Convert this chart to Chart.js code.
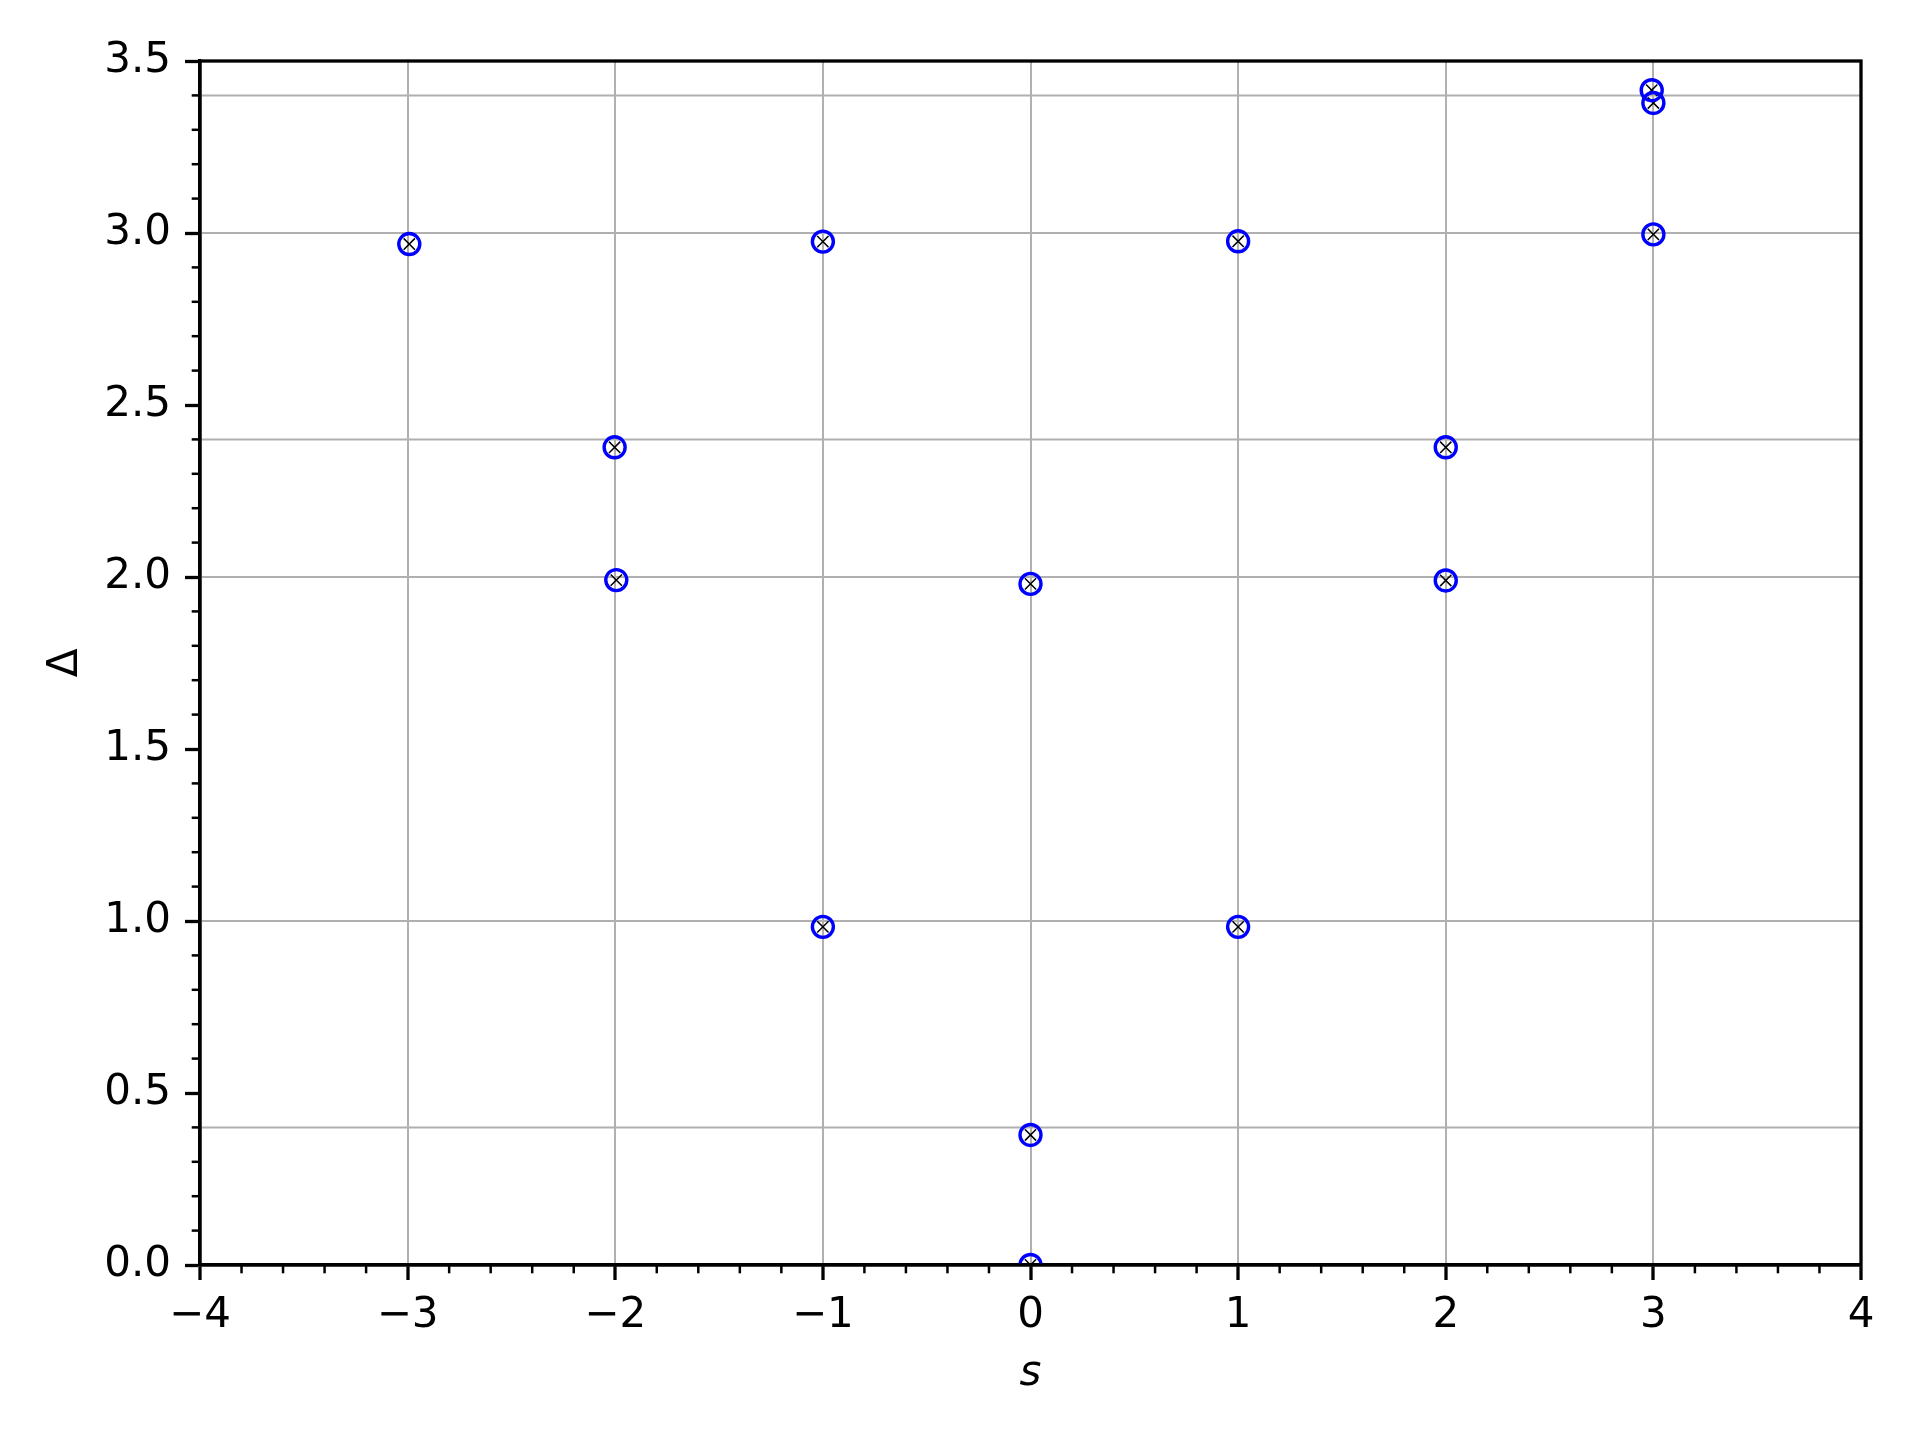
<!DOCTYPE html>
<html>
<head>
<meta charset="utf-8">
<script src="https://cdn.jsdelivr.net/npm/chart.js@4.4.1/dist/chart.umd.min.js"></script>
<style>
  body { margin: 0; background: #fff; }
  canvas { display: block; }
</style>
</head>
<body>
<canvas id="spectrum" width="1920" height="1440"></canvas>
<script>
// data
const sVals     = [-2.992, -2.003, -1.995, -1, -1, 0, 0, 0, 1, 1, 2, 2, 2.992, 3, 3];
const deltaVals = [2.968, 2.377, 1.991, 2.975, 0.983, 1.980, 0.378, 0.0, 2.976, 0.983, 2.377, 1.990, 3.415, 3.378, 2.996];

// gridlines in the picture sit at these heights (not at the tick labels)
const gridY = [0.4, 1.0, 2.0, 2.4, 3.0, 3.4];
const xTickStep = 1, yTickStep = 0.5;
const xMinorStep = 0.2, yMinorStep = 0.1;

const FONT = "'DejaVu Sans', sans-serif";
const points = sVals.map((s, i) => ({ x: s, y: deltaVals[i] }));

function minus(v) {
  return String(v).replace('-', '\u2212');
}

const framePlugin = {
  id: 'frame',
  beforeDatasetsDraw(chart) {
    const { ctx, chartArea: a, scales: { y } } = chart;
    ctx.save();
    ctx.strokeStyle = '#b0b0b0';
    ctx.lineWidth = 2;
    gridY.forEach(v => {
      const py = y.getPixelForValue(v);
      ctx.beginPath();
      ctx.moveTo(a.left, py);
      ctx.lineTo(a.right, py);
      ctx.stroke();
    });
    ctx.restore();
  },
  afterDraw(chart) {
    const { ctx, chartArea: a, scales: { x, y } } = chart;
    ctx.save();
    // minor ticks
    ctx.strokeStyle = '#000';
    ctx.lineWidth = 2.5;
    for (let v = x.min; v <= x.max + 1e-9; v += xMinorStep) {
      const r = Math.round(v / xMinorStep) * xMinorStep;
      if (Math.abs(r - Math.round(r)) < 1e-6) continue;
      const px = x.getPixelForValue(r);
      ctx.beginPath();
      ctx.moveTo(px, a.bottom);
      ctx.lineTo(px, a.bottom + 8.3);
      ctx.stroke();
    }
    for (let v = y.min; v <= y.max + 1e-9; v += yMinorStep) {
      const r = Math.round(v / yMinorStep) * yMinorStep;
      if (Math.abs(r / yTickStep - Math.round(r / yTickStep)) < 1e-6) continue;
      const py = y.getPixelForValue(r);
      ctx.beginPath();
      ctx.moveTo(a.left, py);
      ctx.lineTo(a.left - 8.3, py);
      ctx.stroke();
    }
    // spines
    ctx.lineWidth = 3.3;
    ctx.strokeRect(a.left, a.top, a.right - a.left, a.bottom - a.top);
    ctx.restore();
  }
};

new Chart(document.getElementById('spectrum'), {
  type: 'scatter',
  data: {
    datasets: [{
      label: 'circles',
      data: points,
      pointStyle: 'circle',
      pointRadius: 10.5,
      pointBorderWidth: 3.4,
      pointBorderColor: '#0000ff',
      pointBackgroundColor: 'rgba(0,0,0,0)',
      clip: 0
    }, {
      label: 'crosses',
      data: points,
      pointStyle: 'crossRot',
      pointRadius: 8,
      pointBorderWidth: 1.5,
      pointBorderColor: '#000',
      pointBackgroundColor: '#000',
      clip: 0
    }]
  },
  options: {
    responsive: false,
    animation: false,
    events: [],
    layout: { padding: { left: 0, top: 61, right: 59, bottom: 0 } },
    plugins: {
      legend: { display: false },
      tooltip: { enabled: false }
    },
    scales: {
      x: {
        type: 'linear',
        min: -4,
        max: 4,
        afterFit(scale) { scale.height = 175; },
        ticks: {
          stepSize: xTickStep,
          padding: 11,
          color: '#000',
          font: { family: FONT, size: 42 },
          callback: v => minus(v)
        },
        grid: {
          drawOnChartArea: true,
          color: '#b0b0b0',
          lineWidth: 2,
          tickLength: 15,
          tickColor: '#000',
          tickWidth: 3.3
        },
        border: { display: true, color: '#000', width: 3.3 },
        title: {
          display: true,
          text: 's',
          color: '#000',
          font: { family: FONT, size: 42, style: 'italic' },
          padding: { top: 0, bottom: 41 }
        }
      },
      y: {
        type: 'linear',
        min: 0,
        max: 3.5,
        afterFit(scale) { scale.width = 200; },
        ticks: {
          stepSize: yTickStep,
          padding: 14,
          color: '#000',
          font: { family: FONT, size: 42 },
          callback: v => v.toFixed(1)
        },
        grid: {
          drawOnChartArea: false,
          tickLength: 15,
          tickColor: '#000',
          tickWidth: 3.3
        },
        border: { display: true, color: '#000', width: 3.3 },
        title: {
          display: true,
          text: '\u0394',
          color: '#000',
          font: { family: FONT, size: 42 },
          padding: { top: 41, bottom: 0 }
        }
      }
    }
  },
  plugins: [framePlugin]
});
</script>
</body>
</html>
